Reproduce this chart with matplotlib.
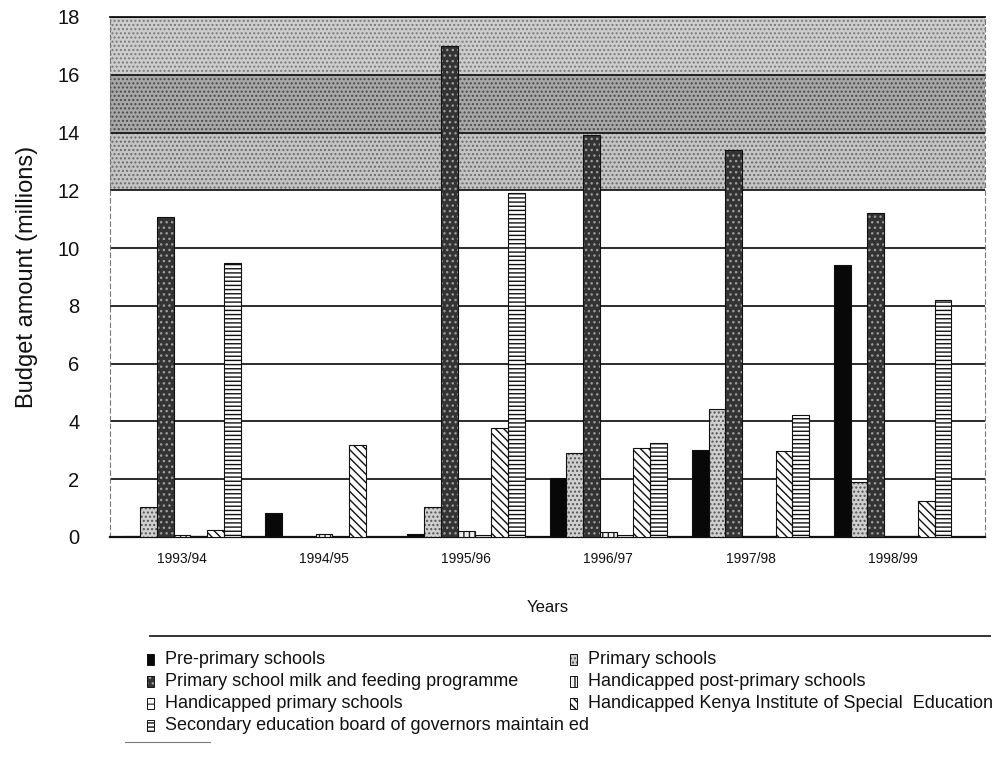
import matplotlib
matplotlib.use('Agg')
import matplotlib.pyplot as plt
from matplotlib import font_manager
from matplotlib.patches import Rectangle
from matplotlib.lines import Line2D
import numpy as np

years = ['1993/94', '1994/95', '1995/96', '1996/97', '1997/98', '1998/99']
series_names = [
    'Pre-primary schools',
    'Primary schools',
    'Primary school milk and feeding programme',
    'Handicapped post-primary schools',
    'Handicapped primary schools',
    'Handicapped Kenya Institute of Special  Education',
    'Secondary education board of governors maintain ed',
]
pre_primary = [0.03, 0.82, 0.10, 2.05, 3.00, 9.40]
primary = [1.05, 0.00, 1.05, 2.92, 4.42, 1.91]
milk_feeding = [11.07, 0.00, 17.00, 13.90, 13.40, 11.20]
hc_post_primary = [0.08, 0.10, 0.20, 0.18, 0.04, 0.04]
hc_primary = [0.04, 0.00, 0.08, 0.08, 0.04, 0.04]
hc_kise = [0.25, 3.18, 3.78, 3.09, 2.98, 1.26]
secondary_bog = [9.48, 0.00, 11.90, 3.24, 4.22, 8.20]
y_ticks = [0, 2, 4, 6, 8, 10, 12, 14, 16, 18]

series = [pre_primary, primary, milk_feeding, hc_post_primary,
          hc_primary, hc_kise, secondary_bog]

names = {f.name for f in font_manager.fontManager.ttflist}
base = 'Liberation Sans' if 'Liberation Sans' in names else 'DejaVu Sans'
narrow = 'Liberation Sans Narrow' if 'Liberation Sans Narrow' in names else base
plt.rcParams['font.family'] = [base, 'DejaVu Sans']
plt.rcParams['hatch.linewidth'] = 1.0

styles = [
    dict(fc='#080808', hatch=None, hc='#080808'),
    dict(fc='#cfcfcf', hatch='....', hc='#555555'),
    dict(fc='#333333', hatch='...', hc='#9c9c9c'),
    dict(fc='#f0f0f0', hatch='|||', hc='#222222'),
    dict(fc='#ffffff', hatch='--', hc='#444444'),
    dict(fc='#ffffff', hatch='\\\\\\\\', hc='#111111'),
    dict(fc='#ffffff', hatch='----', hc='#111111'),
]

W, H = 997, 764
fig = plt.figure(figsize=(W / 100, H / 100), dpi=100)
ax = fig.add_axes([110 / W, 1 - 537 / H, (985 - 110) / W, (537 - 17) / H])

x = np.arange(len(years))
w = 0.118

# textured band 12-18
ax.axhspan(12, 14, facecolor='#c4c4c4', hatch='....', edgecolor='#6a6a6a', lw=0, zorder=0)
ax.axhspan(14, 16, facecolor='#a8a8a8', hatch='....', edgecolor='#4a4a4a', lw=0, zorder=0)
ax.axhspan(16, 18, facecolor='#cdcdcd', hatch='....', edgecolor='#7a7a7a', lw=0, zorder=0)

for i, (vals, st) in enumerate(zip(series, styles)):
    xs = x + (i - 3) * w
    ax.bar(xs, vals, w, color=st['fc'], edgecolor=st['hc'], hatch=st['hatch'],
           linewidth=0, zorder=3)
    ax.bar(xs, vals, w, fill=False, edgecolor='#111111', linewidth=0.8, zorder=4)

ax.set_xlim(-0.506, 5.65)
ax.set_ylim(0, 18)
ax.set_yticks(y_ticks)
ax.set_yticklabels([str(v) for v in y_ticks], fontsize=14.5, color='#111111')
ax.yaxis.grid(True, color='#1a1a1a', linewidth=1.3, zorder=1)
ax.set_axisbelow(True)
ax.set_xticks(x)
ax.set_xticklabels(years, fontsize=10, family=[narrow, 'DejaVu Sans'], color='#111111')
ax.tick_params(axis='both', length=0)
ax.tick_params(axis='y', pad=22)
ax.tick_params(axis='x', pad=11)

for s in ['left', 'right']:
    ax.spines[s].set_color('#777777')
    ax.spines[s].set_linewidth(0.8)
    ax.spines[s].set_linestyle((0, (4, 3)))
ax.spines['top'].set_color('#111111')
ax.spines['top'].set_linewidth(1.3)
ax.spines['bottom'].set_color('#111111')
ax.spines['bottom'].set_linewidth(1.6)

ax.set_ylabel('Budget amount (millions)', fontsize=17, color='#111111', labelpad=14)
ax.set_xlabel('Years', fontsize=12, family=[narrow, 'DejaVu Sans'], color='#111111', labelpad=24)

# legend (manual, row-major, two columns)
fig.add_artist(Line2D([150 / W, 990 / W], [1 - 636 / H, 1 - 636 / H],
                      color='#333333', linewidth=1.4))
fig.add_artist(Line2D([125 / W, 210 / W], [1 - 742 / H, 1 - 742 / H],
                      color='#777777', linewidth=0.8))
row_y = [660, 682, 704, 726]
col_x = [150, 573]
for k, (name, st) in enumerate(zip(series_names, styles)):
    r, c = k // 2, k % 2
    mx, my = col_x[c], row_y[r]
    rect = Rectangle(((mx - 3.5) / W, 1 - (my + 5) / H), 7 / W, 11 / H,
                     transform=fig.transFigure, facecolor=st['fc'],
                     edgecolor=st['hc'], hatch=st['hatch'], linewidth=0)
    fig.add_artist(rect)
    fig.add_artist(Rectangle(((mx - 3.5) / W, 1 - (my + 5) / H), 7 / W, 11 / H,
                             transform=fig.transFigure, fill=False,
                             edgecolor='#111111', linewidth=0.7))
    fig.text((mx + 15) / W, 1 - my / H, name, fontsize=13,
             family=[narrow, 'DejaVu Sans'], va='center', ha='left', color='#111111')

fig.savefig('out.png', dpi=100, facecolor='white')
